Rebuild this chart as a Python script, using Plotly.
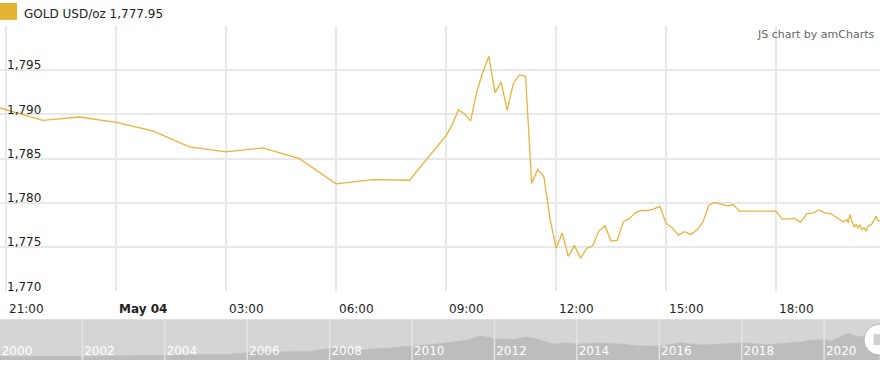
import plotly.graph_objects as go

# ---------------- data ----------------
may3_times = ["20:50", "22:00", "23:00"]
may3_prices = [1790.72, 1789.32, 1789.70]

may4_times = [
    "00:00", "01:00", "02:00", "03:00", "04:00", "05:00", "06:00", "07:00", "08:00",
    "09:00", "09:10", "09:20", "09:30", "09:40", "09:50",
    "10:00", "10:10", "10:20", "10:30", "10:40", "10:50",
    "11:00", "11:10", "11:20", "11:30", "11:40", "11:50",
    "12:00", "12:10", "12:20", "12:30", "12:40", "12:50",
    "13:00", "13:10", "13:20", "13:30", "13:40", "13:50",
    "14:00", "14:10", "14:20", "14:30", "14:40", "14:50",
    "15:00", "15:10", "15:20", "15:30", "15:40", "15:50",
    "16:00", "16:10", "16:20", "16:30", "16:40", "16:50",
    "17:00", "18:00", "18:10", "18:20", "18:30", "18:40", "18:50",
    "19:00", "19:10", "19:20", "19:30", "19:40", "19:50", "19:56", "19:58",
    "20:01", "20:04", "20:08", "20:11", "20:14", "20:17", "20:20", "20:24",
    "20:27", "20:31", "20:36", "20:41", "20:44", "20:46", "20:50",
]
may4_prices = [
    1789.10, 1788.13, 1786.32, 1785.76, 1786.21, 1785.00, 1782.15, 1782.64, 1782.56,
    1787.60, 1788.84, 1790.50, 1790.08, 1789.27, 1792.50,
    1794.76, 1796.56, 1792.45, 1793.65, 1790.45, 1793.50,
    1794.45, 1794.30, 1782.20, 1783.80, 1782.95, 1778.20,
    1774.88, 1776.60, 1773.95, 1775.20, 1773.75, 1774.85,
    1775.15, 1776.85, 1777.40, 1775.70, 1775.76, 1777.87,
    1778.24, 1778.90, 1779.14, 1779.14, 1779.33, 1779.60,
    1777.68, 1777.20, 1776.36, 1776.74, 1776.44, 1776.90,
    1777.80, 1779.74, 1780.05, 1779.85, 1779.67, 1779.80,
    1779.06, 1779.06, 1778.16, 1778.20, 1778.24, 1777.80, 1778.77,
    1778.84, 1779.20, 1778.88, 1778.77, 1778.30, 1777.86, 1778.10, 1777.75,
    1778.70, 1777.86, 1777.30, 1777.55, 1777.10, 1777.55, 1777.00, 1777.20,
    1776.80, 1777.45, 1777.55, 1778.20, 1778.50, 1778.05, 1777.95,
]

x_tick_times = ["2021-05-03 21:00", "2021-05-04 00:00", "2021-05-04 03:00",
                "2021-05-04 06:00", "2021-05-04 09:00", "2021-05-04 12:00",
                "2021-05-04 15:00", "2021-05-04 18:00"]
x_tick_labels = ["21:00", "<b>May 04</b>", "03:00", "06:00", "09:00", "12:00", "15:00", "18:00"]

y_ticks = [1770, 1775, 1780, 1785, 1790, 1795, 1800]
y_tick_labels = ["1,770", "1,775", "1,780", "1,785", "1,790", "1,795", ""]

# navigator (long-term history, rough shape read from the scrollbar)
nav_dates = ["2000-01-01", "2000-07-01", "2001-01-01", "2001-07-01", "2002-01-01", "2002-07-01",
             "2003-01-01", "2003-07-01", "2004-01-01", "2004-07-01", "2005-01-01", "2005-07-01",
             "2006-01-01", "2006-05-01", "2006-07-01", "2007-01-01", "2007-07-01", "2008-01-01",
             "2008-03-01", "2008-10-01", "2009-01-01", "2009-07-01", "2010-01-01", "2010-07-01",
             "2011-01-01", "2011-05-01", "2011-09-01", "2012-01-01", "2012-07-01", "2012-10-01",
             "2013-01-01", "2013-06-01", "2013-10-01", "2014-01-01", "2014-07-01", "2015-01-01",
             "2015-07-01", "2016-01-01", "2016-07-01", "2017-01-01", "2017-07-01", "2018-01-01",
             "2018-08-01", "2019-01-01", "2019-07-01", "2019-09-01", "2020-01-01", "2020-03-01",
             "2020-08-01", "2020-11-01", "2021-01-01", "2021-03-01", "2021-05-04"]
nav_values = [285, 280, 265, 270, 285, 315,
              350, 350, 410, 395, 425, 430,
              560, 700, 630, 640, 665, 900,
              980, 740, 860, 930, 1100, 1200,
              1360, 1520, 1880, 1650, 1600, 1770,
              1670, 1230, 1320, 1240, 1320, 1250,
              1090, 1080, 1340, 1160, 1240, 1330,
              1180, 1290, 1420, 1540, 1560, 1480,
              2060, 1780, 1940, 1700, 1790]
nav_tick_dates = ["2000-01-01", "2002-01-01", "2004-01-01", "2006-01-01", "2008-01-01",
                  "2010-01-01", "2012-01-01", "2014-01-01", "2016-01-01", "2018-01-01",
                  "2020-01-01"]
nav_tick_labels = ["2000", "2002", "2004", "2006", "2008", "2010", "2012", "2014", "2016",
                   "2018", "2020"]

series_name = "GOLD USD/oz"
line_color = "#E8B33C"

# ---------------- figure ----------------
W, H = 880, 369
times = ["2021-05-03 " + t for t in may3_times] + ["2021-05-04 " + t for t in may4_times]
prices = may3_prices + may4_prices

FONT = "DejaVu Sans, Verdana, sans-serif"


def py(pix):  # pixel-from-top -> paper y
    return (H - pix) / H


def px(pix):
    return pix / W


fig = go.Figure()
fig.add_trace(go.Scatter(x=times, y=prices, mode="lines",
                         line=dict(color=line_color, width=1.3),
                         xaxis="x", yaxis="y", showlegend=False, hoverinfo="skip"))
fig.add_trace(go.Scatter(x=nav_dates, y=nav_values, mode="lines", fill="tozeroy",
                         fillcolor="#bdbdbd", line=dict(color="#bdbdbd", width=0.5),
                         xaxis="x2", yaxis="y2", showlegend=False, hoverinfo="skip"))

grid = "#e8e8e8"
fig.update_layout(
    width=W, height=H,
    margin=dict(l=0, r=0, t=0, b=0),
    paper_bgcolor="white", plot_bgcolor="white",
    font=dict(family=FONT, size=12, color="#222"),
    xaxis=dict(type="date", domain=[0, 1],
               range=["2021-05-03 20:50", "2021-05-04 20:50"],
               tickvals=x_tick_times, showticklabels=False,
               showgrid=True, gridcolor=grid, gridwidth=1.5,
               showline=False, zeroline=False, ticks="", anchor="y"),
    yaxis=dict(domain=[py(293), py(26)], range=[1770, 1800],
               tickvals=y_ticks, ticktext=y_tick_labels,
               ticklabelposition="inside", ticklabelshift=-5, ticklabelstandoff=4,
               ticklabeloverflow="allow",
               tickfont=dict(size=12, color="#222"),
               showgrid=True, gridcolor=grid, gridwidth=1.5,
               showline=False, zeroline=False, ticks="", anchor="x"),
    xaxis2=dict(type="date", domain=[0, 1], range=["2000-01-01", "2021-05-10"],
                tickvals=nav_tick_dates, ticktext=nav_tick_labels,
                ticklabelposition="inside", ticklabelshift=17, ticklabelstandoff=0,
                ticklabeloverflow="allow",
                tickfont=dict(size=12, color="white"),
                showgrid=False, showline=False, zeroline=False, ticks="", anchor="y2"),
    yaxis2=dict(domain=[py(362), py(321)], range=[0, 3150],
                showgrid=False, showticklabels=False, showline=False, zeroline=False,
                ticks="", anchor="x2"),
)

shapes = [
    # navigator background
    dict(type="rect", xref="x2 domain", yref="y2 domain", x0=0, x1=1, y0=0, y1=1,
         fillcolor="#d5d5d5", line=dict(width=0), layer="below"),
    # legend swatch
    dict(type="rect", xref="paper", yref="paper", x0=0, x1=px(17), y0=py(20), y1=py(3),
         fillcolor="#E6B433", line=dict(width=0)),
    # navigator right handle
    dict(type="circle", xref="paper", yref="paper", x0=px(864), x1=px(895),
         y0=py(357), y1=py(326), fillcolor="white", line=dict(color="#b8b8b8", width=1)),
    dict(type="rect", xref="paper", yref="paper", x0=px(873.5), x1=px(884),
         y0=py(347), y1=py(336), fillcolor="#d0d0d0", line=dict(width=0)),
]
for d in nav_tick_dates[1:]:
    shapes.append(dict(type="line", xref="x2", yref="y2 domain", x0=d, x1=d, y0=0, y1=1,
                       line=dict(color="#e4e4e4", width=1.5), layer="above"))
fig.update_layout(shapes=shapes)

annotations = [
    dict(xref="paper", yref="paper", x=px(22), y=py(14), xanchor="left", yanchor="middle",
         text=f"{series_name} {prices[-1]:,.2f}", showarrow=False,
         font=dict(family=FONT, size=12, color="#222")),
    dict(xref="paper", yref="paper", x=px(876), y=py(35), xanchor="right", yanchor="middle",
         text="JS chart by amCharts", showarrow=False,
         font=dict(family=FONT, size=11, color="#666")),
]
for t, lab in zip(x_tick_times, x_tick_labels):
    annotations.append(dict(xref="x", yref="paper", x=t, y=py(310.5), xanchor="left",
                            yanchor="middle", xshift=1, text=lab, showarrow=False,
                            font=dict(family=FONT, size=12, color="#222")))
fig.update_layout(annotations=annotations)

fig.write_html("out.html")
